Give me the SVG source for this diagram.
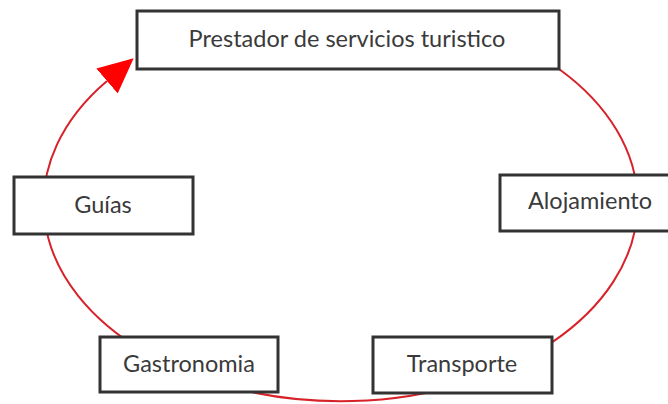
<svg xmlns="http://www.w3.org/2000/svg" width="668" height="404" viewBox="0 0 668 404">
<style>
.box{fill:#fff;stroke:#333;stroke-width:3}
.lbl{font-family:Lato,"Open Sans",sans-serif;font-size:23.5px;fill:#3a3a3a;text-anchor:middle}
.link{fill:none;stroke:#d8222a;stroke-width:2}
</style>
<defs>
<marker id="ah" markerUnits="userSpaceOnUse" markerWidth="36" markerHeight="34" refX="0" refY="16.5" orient="auto">
<path d="M0,0 L35,16.5 L0,33 z" fill="#f00"/>
</marker>
</defs>
<rect width="668" height="404" fill="#fff"/>
<g id="connectors">
<path class="link" d="M559,69 A297,198 0 1 1 107,81" marker-end="url(#ah)"/>
</g>
<g id="prestador">
<rect class="box" x="137" y="11" width="422" height="58"/>
<text class="lbl" x="347" y="47">Prestador de servicios turistico</text>
</g>
<g id="guias">
<rect class="box" x="14" y="177" width="179" height="57"/>
<text class="lbl" x="103" y="213">Guías</text>
</g>
<g id="alojamiento">
<rect class="box" x="500" y="175" width="172" height="56"/>
<text class="lbl" x="590" y="209">Alojamiento</text>
</g>
<g id="gastronomia">
<rect class="box" x="100" y="337" width="178" height="55"/>
<text class="lbl" x="189" y="372">Gastronomia</text>
</g>
<g id="transporte">
<rect class="box" x="373" y="337" width="179" height="56"/>
<text class="lbl" x="462" y="372">Transporte</text>
</g>
</svg>
